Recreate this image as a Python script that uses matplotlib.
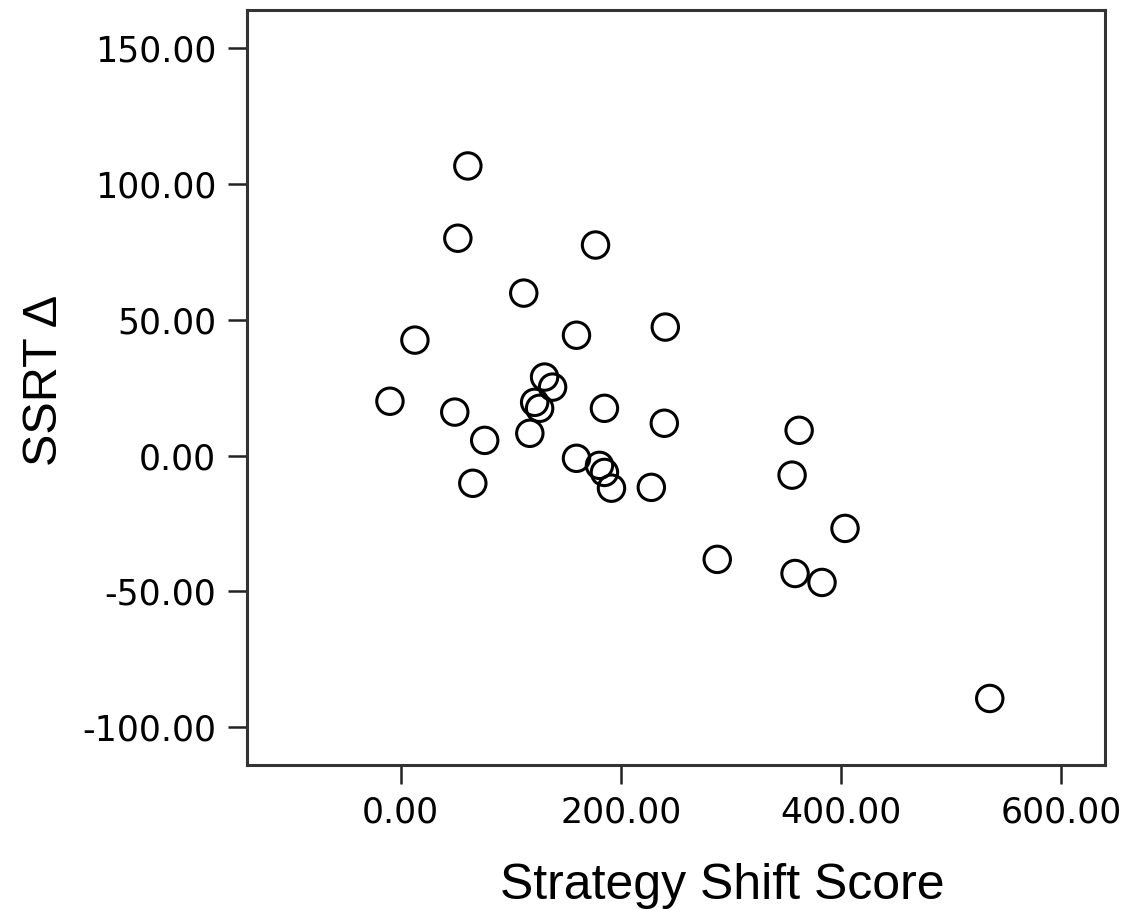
import matplotlib
matplotlib.use('Agg')
import matplotlib.pyplot as plt

# strategy shift score vs. change in stop-signal reaction time
shift_score = [-9.8, 12.9, 49.1, 51.9, 61.0, 65.5, 76.3, 111.8, 117.3, 121.7,
               126.2, 130.7, 138.0, 159.7, 159.7, 177.0, 180.6, 185.1, 191.5, 185.1,
               227.7, 240.4, 239.5, 287.6, 355.6, 362.0, 358.3, 382.8, 403.7, 535.2]
ssrt_delta = [20.0, 42.5, 16.0, 80.0, 106.6, -10.2, 5.6, 59.8, 8.2, 19.6,
              17.4, 28.9, 25.2, 44.3, -1.0, 77.5, -3.6, -6.2, -12.0, 17.4,
              -11.7, 47.3, 11.9, -38.2, -7.2, 9.3, -43.4, -46.7, -26.8, -89.4]

x_ticks = [0, 200, 400, 600]
y_ticks = [-100, -50, 0, 50, 100, 150]

fig = plt.figure(figsize=(11.34, 9.10), dpi=100)
ax = fig.add_axes([0.2175, 0.159, 0.757, 0.830])

ax.scatter(shift_score, ssrt_delta, s=19**2, facecolors='none',
           edgecolors='black', linewidths=2.2, zorder=3)

ax.set_xlim(-140, 640)
ax.set_ylim(-114, 164)
ax.set_xticks(x_ticks)
ax.set_yticks(y_ticks)
ax.set_xticklabels(['%.2f' % v for v in x_ticks])
ax.set_yticklabels(['%.2f' % v for v in y_ticks])

for sp in ax.spines.values():
    sp.set_color('#333333')
    sp.set_linewidth(2.2)

ax.tick_params(axis='both', direction='out', length=14, width=1.8,
               color='#222222', labelsize=25, pad=8)
for lab in ax.get_xticklabels() + ax.get_yticklabels():
    lab.set_family('DejaVu Sans')

ax.set_xlabel('Strategy Shift Score', family='Liberation Sans', fontsize=36,
              labelpad=24, x=0.554)
ax.set_ylabel('SSRT \u0394', family='Liberation Sans', fontsize=35,
              labelpad=11, y=0.51)

fig.savefig('out.png', dpi=100)
